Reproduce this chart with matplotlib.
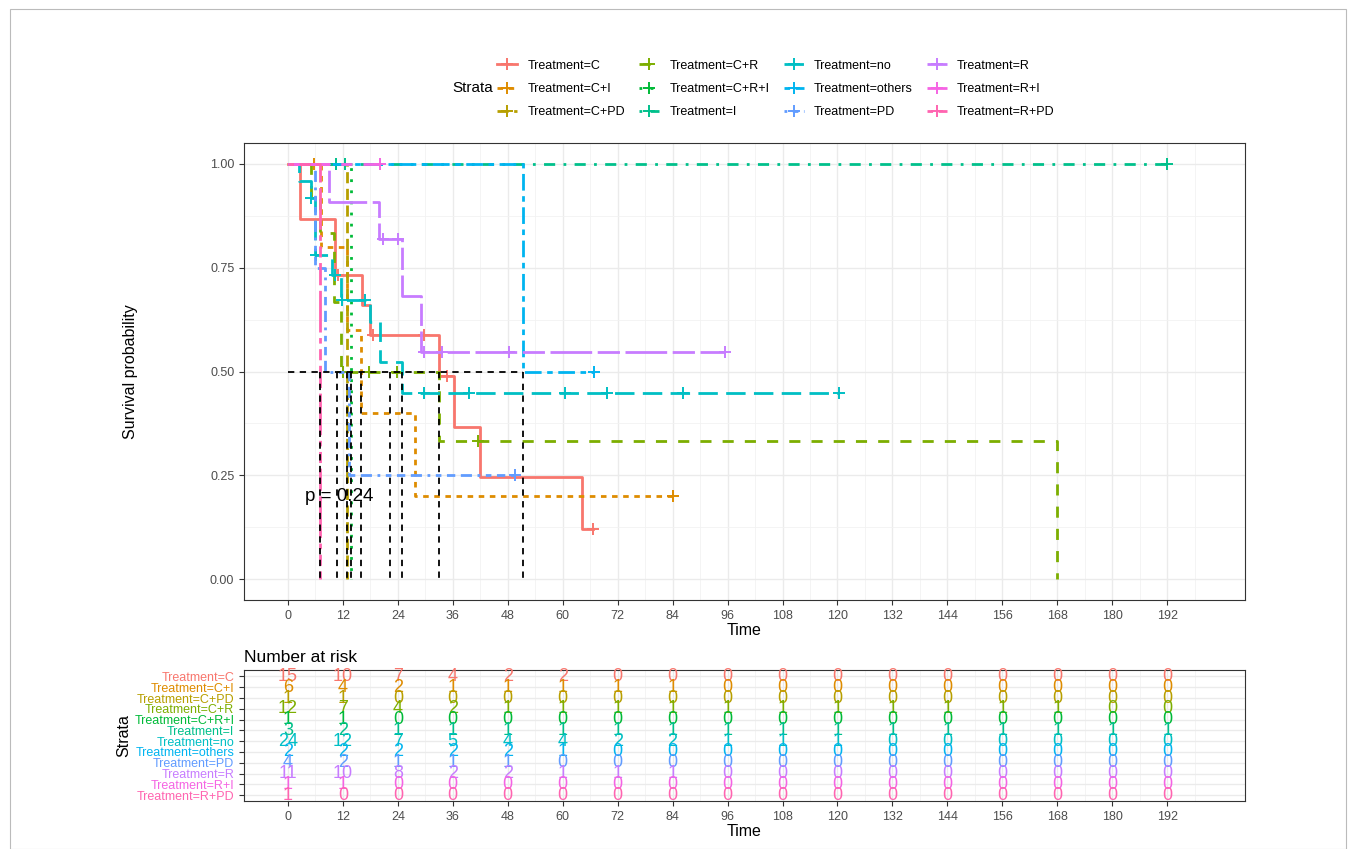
import matplotlib
matplotlib.use("Agg")
import matplotlib.pyplot as plt
from matplotlib.lines import Line2D
from matplotlib.patches import Rectangle

plt.rcParams['font.family'] = ['Liberation Sans', 'DejaVu Sans']

# strata, colours (ggplot hue palette) and R line types
strata = ["Treatment=C", "Treatment=C+I", "Treatment=C+PD", "Treatment=C+R",
          "Treatment=C+R+I", "Treatment=I", "Treatment=no", "Treatment=others",
          "Treatment=PD", "Treatment=R", "Treatment=R+I", "Treatment=R+PD"]
colors = ["#F8766D", "#DE8C00", "#B79F00", "#7CAE00", "#00BA38", "#00C08B",
          "#00BFC4", "#00B4F0", "#619CFF", "#C77CFF", "#F564E3", "#FF64B0"]
dashes = [None, (2, 2), (4, 2), (4, 4), (1, 3), (1, 3, 4, 3), (7, 3),
          (2, 2, 6, 2), (1, 2, 2, 2, 3, 2, 4, 2), (15, 2, 8, 2),
          (15, 4, 4, 4, 8, 4, 4, 4), (2, 2, 4, 2, 8, 2, 15, 2)]

# KM step points (time, survival after the step) and censoring times
c_time = [0, 2.6, 10.3, 16.2, 18, 33, 36.3, 41.9, 64.3]
c_surv = [1, 0.867, 0.733, 0.66, 0.587, 0.489, 0.367, 0.245, 0.122]
c_cens = [11, 18.5, 29.7, 34.7, 66.6]
ci_time = [0, 7.3, 13, 15.9, 27.8]
ci_surv = [1, 0.8, 0.6, 0.4, 0.2]
ci_cens = [5.7, 84]
cpd_time = [0, 13]
cpd_surv = [1, 0]
cpd_cens = []
cr_time = [0, 5, 7, 10, 11.5, 33, 168]
cr_surv = [1, 0.917, 0.833, 0.667, 0.5, 0.333, 0]
cr_cens = [12, 17.7, 23.8, 41.5]
cri_time = [0, 13.7]
cri_surv = [1, 0]
cri_cens = []
i_time = [0]
i_surv = [1]
i_cens = [10.5, 12.5, 192]
no_time = [0, 2.5, 5, 5.8, 9.6, 11.5, 18, 20, 25]
no_surv = [1, 0.958, 0.917, 0.78, 0.733, 0.672, 0.62, 0.522, 0.448]
no_cens = [5, 6.2, 10.3, 11.8, 16.8, 29.7, 39.5, 60.5, 69.7, 86.3, 120.3]
oth_time = [0, 51.4]
oth_surv = [1, 0.5]
oth_cens = [66.8]
pd_time = [0, 6, 8, 13.3]
pd_surv = [1, 0.75, 0.5, 0.25]
pd_cens = [49.5]
r_time = [0, 9, 19.9, 25, 29]
r_surv = [1, 0.909, 0.818, 0.682, 0.546]
r_cens = [20.8, 24, 29.7, 33.6, 48.3, 95.5]
ri_time = [0]
ri_surv = [1]
ri_cens = [20]
rpd_time = [0, 7.1]
rpd_surv = [1, 0]
rpd_cens = []

curves = [(c_time, c_surv, c_cens), (ci_time, ci_surv, ci_cens),
          (cpd_time, cpd_surv, cpd_cens), (cr_time, cr_surv, cr_cens),
          (cri_time, cri_surv, cri_cens), (i_time, i_surv, i_cens),
          (no_time, no_surv, no_cens), (oth_time, oth_surv, oth_cens),
          (pd_time, pd_surv, pd_cens), (r_time, r_surv, r_cens),
          (ri_time, ri_surv, ri_cens), (rpd_time, rpd_surv, rpd_cens)]

# number at risk at 0, 12, ..., 192
risk_times = list(range(0, 193, 12))
risk_C = [15, 10, 7, 4, 2, 2, 0, 0, 0, 0, 0, 0, 0, 0, 0, 0, 0]
risk_CI = [6, 4, 2, 1, 1, 1, 1, 1, 0, 0, 0, 0, 0, 0, 0, 0, 0]
risk_CPD = [1, 1, 0, 0, 0, 0, 0, 0, 0, 0, 0, 0, 0, 0, 0, 0, 0]
risk_CR = [12, 7, 4, 2, 1, 1, 1, 1, 1, 1, 1, 1, 1, 1, 1, 0, 0]
risk_CRI = [1, 1, 0, 0, 0, 0, 0, 0, 0, 0, 0, 0, 0, 0, 0, 0, 0]
risk_I = [3, 2, 1, 1, 1, 1, 1, 1, 1, 1, 1, 1, 1, 1, 1, 1, 1]
risk_no = [24, 12, 7, 5, 4, 4, 2, 2, 1, 1, 1, 0, 0, 0, 0, 0, 0]
risk_others = [2, 2, 2, 2, 2, 1, 0, 0, 0, 0, 0, 0, 0, 0, 0, 0, 0]
risk_PD = [4, 2, 1, 1, 1, 0, 0, 0, 0, 0, 0, 0, 0, 0, 0, 0, 0]
risk_R = [11, 10, 8, 2, 2, 1, 1, 1, 0, 0, 0, 0, 0, 0, 0, 0, 0]
risk_RI = [1, 1, 0, 0, 0, 0, 0, 0, 0, 0, 0, 0, 0, 0, 0, 0, 0]
risk_RPD = [1, 0, 0, 0, 0, 0, 0, 0, 0, 0, 0, 0, 0, 0, 0, 0, 0]
risk_rows = [risk_C, risk_CI, risk_CPD, risk_CR, risk_CRI, risk_I, risk_no,
             risk_others, risk_PD, risk_R, risk_RI, risk_RPD]

pval_text = "p = 0.24"


def surv_at(times, surv, t):
    s = surv[0]
    for tt, ss in zip(times, surv):
        if tt <= t:
            s = ss
    return s


def median_time(times, surv):
    for k, (tt, ss) in enumerate(zip(times, surv)):
        if ss < 0.5:
            return tt
        if ss == 0.5:
            if k + 1 < len(times):
                return (tt + times[k + 1]) / 2
            return tt
    return None


W, H = 1356, 849
fig = plt.figure(figsize=(W / 100, H / 100), dpi=100)
fig.patches.append(Rectangle((10 / W, 0), 1336 / W, 1 - 9 / H, transform=fig.transFigure,
                             fill=False, edgecolor="#BBBBBB", lw=0.8))

ax = fig.add_axes([244 / W, 1 - 600 / H, 1001 / W, 457 / H])
rt = fig.add_axes([244 / W, 1 - 801 / H, 1001 / W, 131 / H])


def style_panel(a):
    a.set_xlim(-9.6, 209)
    a.set_xticks(risk_times)
    a.set_xticks([t + 6 for t in risk_times], minor=True)
    a.grid(True, which="major", color="#EBEBEB", lw=1.0)
    a.grid(True, which="minor", axis="x", color="#F2F2F2", lw=0.6)
    a.set_axisbelow(True)
    for s in a.spines.values():
        s.set_color("#333333")
        s.set_linewidth(0.8)
    a.tick_params(which="major", length=3.5, color="#333333", labelsize=9,
                  labelcolor="#4D4D4D")
    a.tick_params(which="minor", length=0)
    a.set_xlabel("Time", fontsize=11.5, labelpad=1)


style_panel(ax)
ax.set_ylim(-0.05, 1.05)
ax.set_yticks([0, 0.25, 0.5, 0.75, 1.0])
ax.set_yticks([0.125, 0.375, 0.625, 0.875], minor=True)
ax.grid(True, which="minor", axis="y", color="#F2F2F2", lw=0.6)
ax.set_yticklabels(["%.2f" % v for v in [0, 0.25, 0.5, 0.75, 1.0]])
ax.set_ylabel("Survival probability", fontsize=11.5, labelpad=52)

handles = []
medians = []
for name, col, ds, (tm, sv, cs) in zip(strata, colors, dashes, curves):
    end = max([tm[-1]] + cs)
    xs = tm + [end]
    ys = sv + [sv[-1]]
    ls = "-" if ds is None else (0, ds)
    ax.plot(xs, ys, drawstyle="steps-post", color=col, lw=2.0, linestyle=ls)
    if cs:
        ax.plot(cs, [surv_at(tm, sv, c) for c in cs], linestyle="none", marker="+",
                ms=9, mew=1.4, color=col)
    handles.append(Line2D([], [], color=col, lw=2.0, linestyle=ls, marker="+",
                          ms=9, mew=1.4))
    m = median_time(tm, sv)
    if m is not None:
        medians.append(m)

# median survival lines
ax.plot([0, max(medians)], [0.5, 0.5], color="black", lw=1.3, linestyle=(0, (3.5, 3)))
for m in medians:
    ax.plot([m, m], [0.5, 0], color="black", lw=1.3, linestyle=(0, (3.5, 3)))

ax.text(3.7, 0.2, pval_text, fontsize=13.5, va="center", ha="left")

fig.legend(handles, strata, ncol=4, loc="center", bbox_to_anchor=(776 / W, 1 - 89 / H),
           frameon=False, fontsize=9, handlelength=1.6, columnspacing=1.15,
           labelspacing=0.9, handletextpad=0.8)
fig.text(452 / W, 1 - 88 / H, "Strata", fontsize=11, va="center", ha="left")

# risk table
style_panel(rt)
n = len(strata)
ypos = [n - k for k in range(n)]
rt.set_ylim(0.45, n + 0.6)
rt.set_yticks(ypos)
rt.set_yticklabels(strata, fontsize=9)
for lab, col in zip(rt.get_yticklabels(), colors):
    lab.set_color(col)
rt.grid(True, which="major", axis="y", color="#EBEBEB", lw=1.0)
for y, col, row in zip(ypos, colors, risk_rows):
    for t, v in zip(risk_times, row):
        rt.text(t, y, str(v), color=col, fontsize=13, ha="center", va="center")
rt.set_ylabel("Strata", fontsize=11.5, labelpad=2)
rt.set_title("Number at risk", loc="left", fontsize=12.5, pad=6)

fig.savefig("out.png", dpi=100)
